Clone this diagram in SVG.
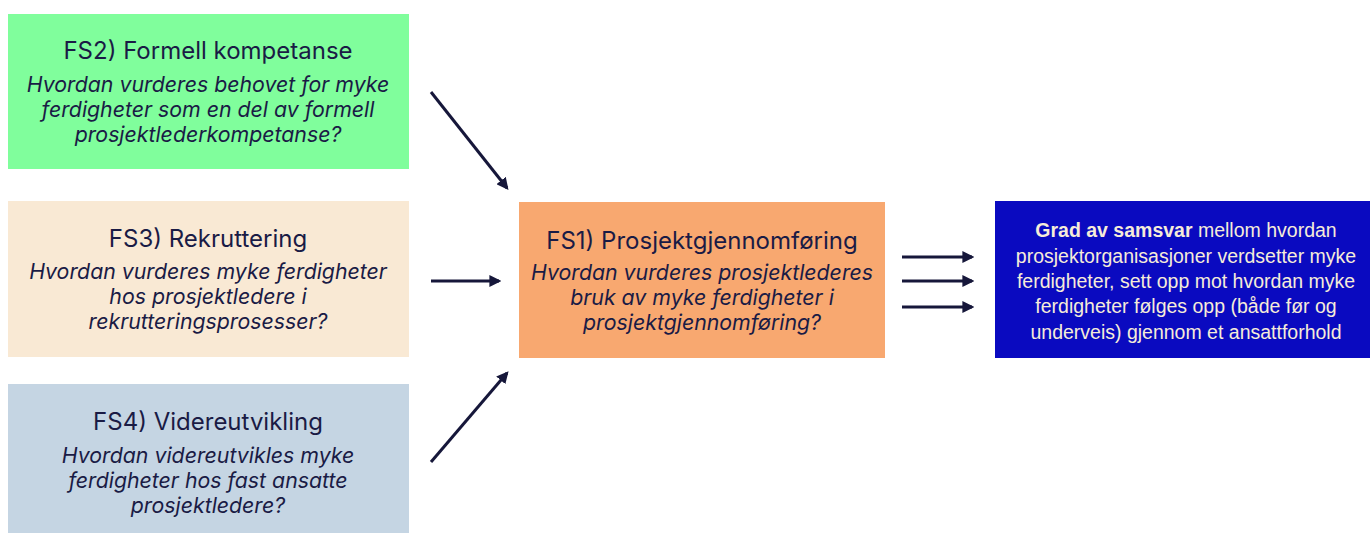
<svg xmlns="http://www.w3.org/2000/svg" width="1370" height="533" viewBox="0 0 1370 533">
  <style>
    .title { font-family: Inter, "Liberation Sans", sans-serif; font-size: 24px; font-weight: 400; fill: #1a1b45; text-anchor: middle; }
    .q { font-family: Inter, "Liberation Sans", sans-serif; font-size: 21.3px; font-style: italic; fill: #1a1b45; text-anchor: middle; }
    .res { font-family: "Liberation Sans", Arial, sans-serif; font-size: 19.5px; fill: #f6ecd9; text-anchor: middle; }
    .conn { stroke: #16173a; stroke-width: 3; fill: none; marker-end: url(#head); }
  </style>
  <defs>
    <marker id="head" viewBox="0 0 10 10" refX="8" refY="5" markerWidth="4" markerHeight="4" orient="auto" markerUnits="strokeWidth">
      <path d="M0,0 L10,5 L0,10 z" fill="#16173a"/>
    </marker>
  </defs>
  <rect width="1370" height="533" fill="#ffffff"/>

  <g id="fs2">
    <rect x="8" y="14" width="401" height="155" fill="#80fe9c"/>
    <text class="title" x="208" y="59">FS2) Formell kompetanse</text>
    <text class="q" x="208" y="92">Hvordan vurderes behovet for myke</text>
    <text class="q" x="208" y="117">ferdigheter som en del av formell</text>
    <text class="q" x="208" y="142">prosjektlederkompetanse?</text>
  </g>

  <g id="fs3">
    <rect x="8" y="201" width="401" height="156" fill="#f9e9d4"/>
    <text class="title" x="208" y="247">FS3) Rekruttering</text>
    <text class="q" x="208" y="279">Hvordan vurderes myke ferdigheter</text>
    <text class="q" x="208" y="304">hos prosjektledere i</text>
    <text class="q" x="208" y="329">rekrutteringsprosesser?</text>
  </g>

  <g id="fs4">
    <rect x="8" y="384" width="401" height="149" fill="#c5d5e3"/>
    <text class="title" x="208" y="430">FS4) Videreutvikling</text>
    <text class="q" x="208" y="463">Hvordan videreutvikles myke</text>
    <text class="q" x="208" y="488">ferdigheter hos fast ansatte</text>
    <text class="q" x="208" y="513">prosjektledere?</text>
  </g>

  <g id="fs1">
    <rect x="519" y="202" width="366" height="156" fill="#f8a870"/>
    <text class="title" x="702" y="249">FS1) Prosjektgjennomføring</text>
    <text class="q" x="702" y="280">Hvordan vurderes prosjektlederes</text>
    <text class="q" x="702" y="305">bruk av myke ferdigheter i</text>
    <text class="q" x="702" y="330">prosjektgjennomføring?</text>
  </g>

  <g id="result">
    <rect x="995" y="201" width="375" height="157" fill="#0a0ac0"/>
    <text class="res" x="1186" y="237"><tspan font-weight="bold">Grad av samsvar</tspan> mellom hvordan</text>
    <text class="res" x="1186" y="263">prosjektorganisasjoner verdsetter myke</text>
    <text class="res" x="1186" y="288">ferdigheter, sett opp mot hvordan myke</text>
    <text class="res" x="1186" y="313">ferdigheter følges opp (både før og</text>
    <text class="res" x="1186" y="339">underveis) gjennom et ansattforhold</text>
  </g>

  <g id="connectors">
    <line class="conn" x1="431" y1="92" x2="507" y2="188"/>
    <line class="conn" x1="431" y1="281" x2="499" y2="281"/>
    <line class="conn" x1="431" y1="462" x2="507" y2="373"/>
    <line class="conn" x1="902" y1="257" x2="972" y2="257"/>
    <line class="conn" x1="902" y1="281" x2="972" y2="281"/>
    <line class="conn" x1="902" y1="307" x2="972" y2="307"/>
  </g>
</svg>
